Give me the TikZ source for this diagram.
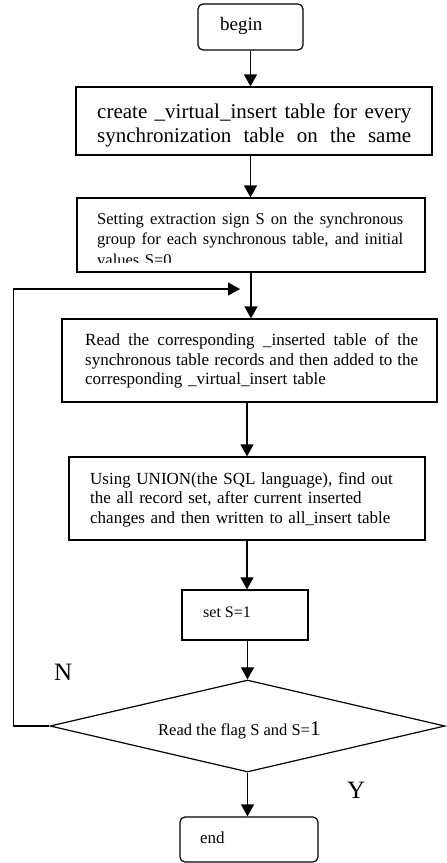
\documentclass[tikz,border=0pt]{standalone}
\usepackage{fontspec}
\setmainfont{Liberation Serif}
\usetikzlibrary{arrows.meta,shapes.geometric}

% a line of text spread to a full given width
\newcommand{\spreadline}[2]{\leavevmode\hbox to #1{\spaceskip=0.25em plus 1fil\relax #2}}

\tikzset{
  box/.style={draw,line width=1.2pt,inner sep=0pt},
  terminal/.style={box,rounded corners=5pt},
  decision/.style={draw,line width=1.2pt,diamond,inner sep=0pt},
  flow/.style={draw,line width=1.2pt,-{Triangle[length=12pt,width=13pt]}},
  txt/.style={inner sep=0pt,anchor=base west,align=left},
  mark label/.style={inner sep=0pt,anchor=base west,font=\fontsize{25}{28}\selectfont},
}

\begin{document}
\begin{tikzpicture}[x=1pt,y=-1pt]
\useasboundingbox (0,0) rectangle (447,863);

% boxes
\node[terminal,minimum width=105pt,minimum height=46pt] (begin) at (250.5,27) {};
\node[box,minimum width=356pt,minimum height=68pt] (create) at (254,121) {};
\node[box,minimum width=348pt,minimum height=74pt] (setting) at (251,235) {};
\node[box,minimum width=375pt,minimum height=83pt] (read) at (249.5,360.5) {};
\node[box,minimum width=356pt,minimum height=83pt] (using) at (247,498.5) {};
\node[box,minimum width=126pt,minimum height=50pt] (set) at (245,615) {};
\node[decision,minimum width=395pt,minimum height=92pt] (dec) at (247.5,726) {};
\node[terminal,minimum width=138pt,minimum height=45pt] (end) at (249,839.5) {};

% texts
\node[txt,font=\fontsize{19}{22}\selectfont] (tbegin) at (220,30) {begin};
\node[txt,text width=314pt,font=\fontsize{21}{24}\selectfont] (tcreate) at (97,118)
  {\spreadline{314pt}{create \_virtual\_insert table for every}\\
   \spreadline{314pt}{synchronization table on the same}};
\begin{scope}
  \clip (78,199) rectangle (424,262);
  \node[txt,text width=306pt,font=\fontsize{16.5}{20.5}\selectfont] (tsetting) at (97,224)
    {\spreadline{306pt}{Setting extraction sign S on the synchronous}\\
     \spreadline{306pt}{group for each synchronous table, and initial}\\
     values S=0};
\end{scope}
\node[txt,text width=333pt,font=\fontsize{17}{19.7}\selectfont] (tread) at (85,345.5)
  {\spreadline{333pt}{Read the corresponding \_inserted table of the}\\
   \spreadline{333pt}{synchronous table records and then added to the}\\
   corresponding \_virtual\_insert table};
\node[txt,text width=320pt,font=\fontsize{17}{19.5}\selectfont] (tusing) at (90,484)
  {Using UNION(the SQL language), find out\\
   the all record set, after current inserted\\
   changes and then written to all\_insert table};
\node[txt,font=\fontsize{16}{19}\selectfont] (tset) at (203,617) {set S=1};
\node[txt,font=\fontsize{16.5}{19}\selectfont] (tdec) at (158,735.5)
  {Read the flag S and S={\fontsize{21}{21}\selectfont 1}};
\node[txt,font=\fontsize{17}{19}\selectfont] (tend) at (200,843) {end};
\node[mark label] (lN) at (54,680) {N};
\node[mark label] (lY) at (347,798) {Y};

% connectors
\coordinate (loopin) at (240,289);
\draw[flow] (begin.south) -- (begin.south |- create.north);
\draw[flow] (create.south -| begin) -- (setting.north -| begin);
\draw[flow] (setting.south) -- (setting.south |- read.north);
\draw[flow] (read.south -| using) -- (using.north);
\draw[flow] (using.south) -- (using.south |- set.north);
\draw[flow] (set.south -| dec) -- (dec.north);
\draw[flow] (dec.south) -- (dec.south |- end.north);
\draw[flow] (dec.west) -- ++(-36,0) |- (loopin);
\end{tikzpicture}
\end{document}
